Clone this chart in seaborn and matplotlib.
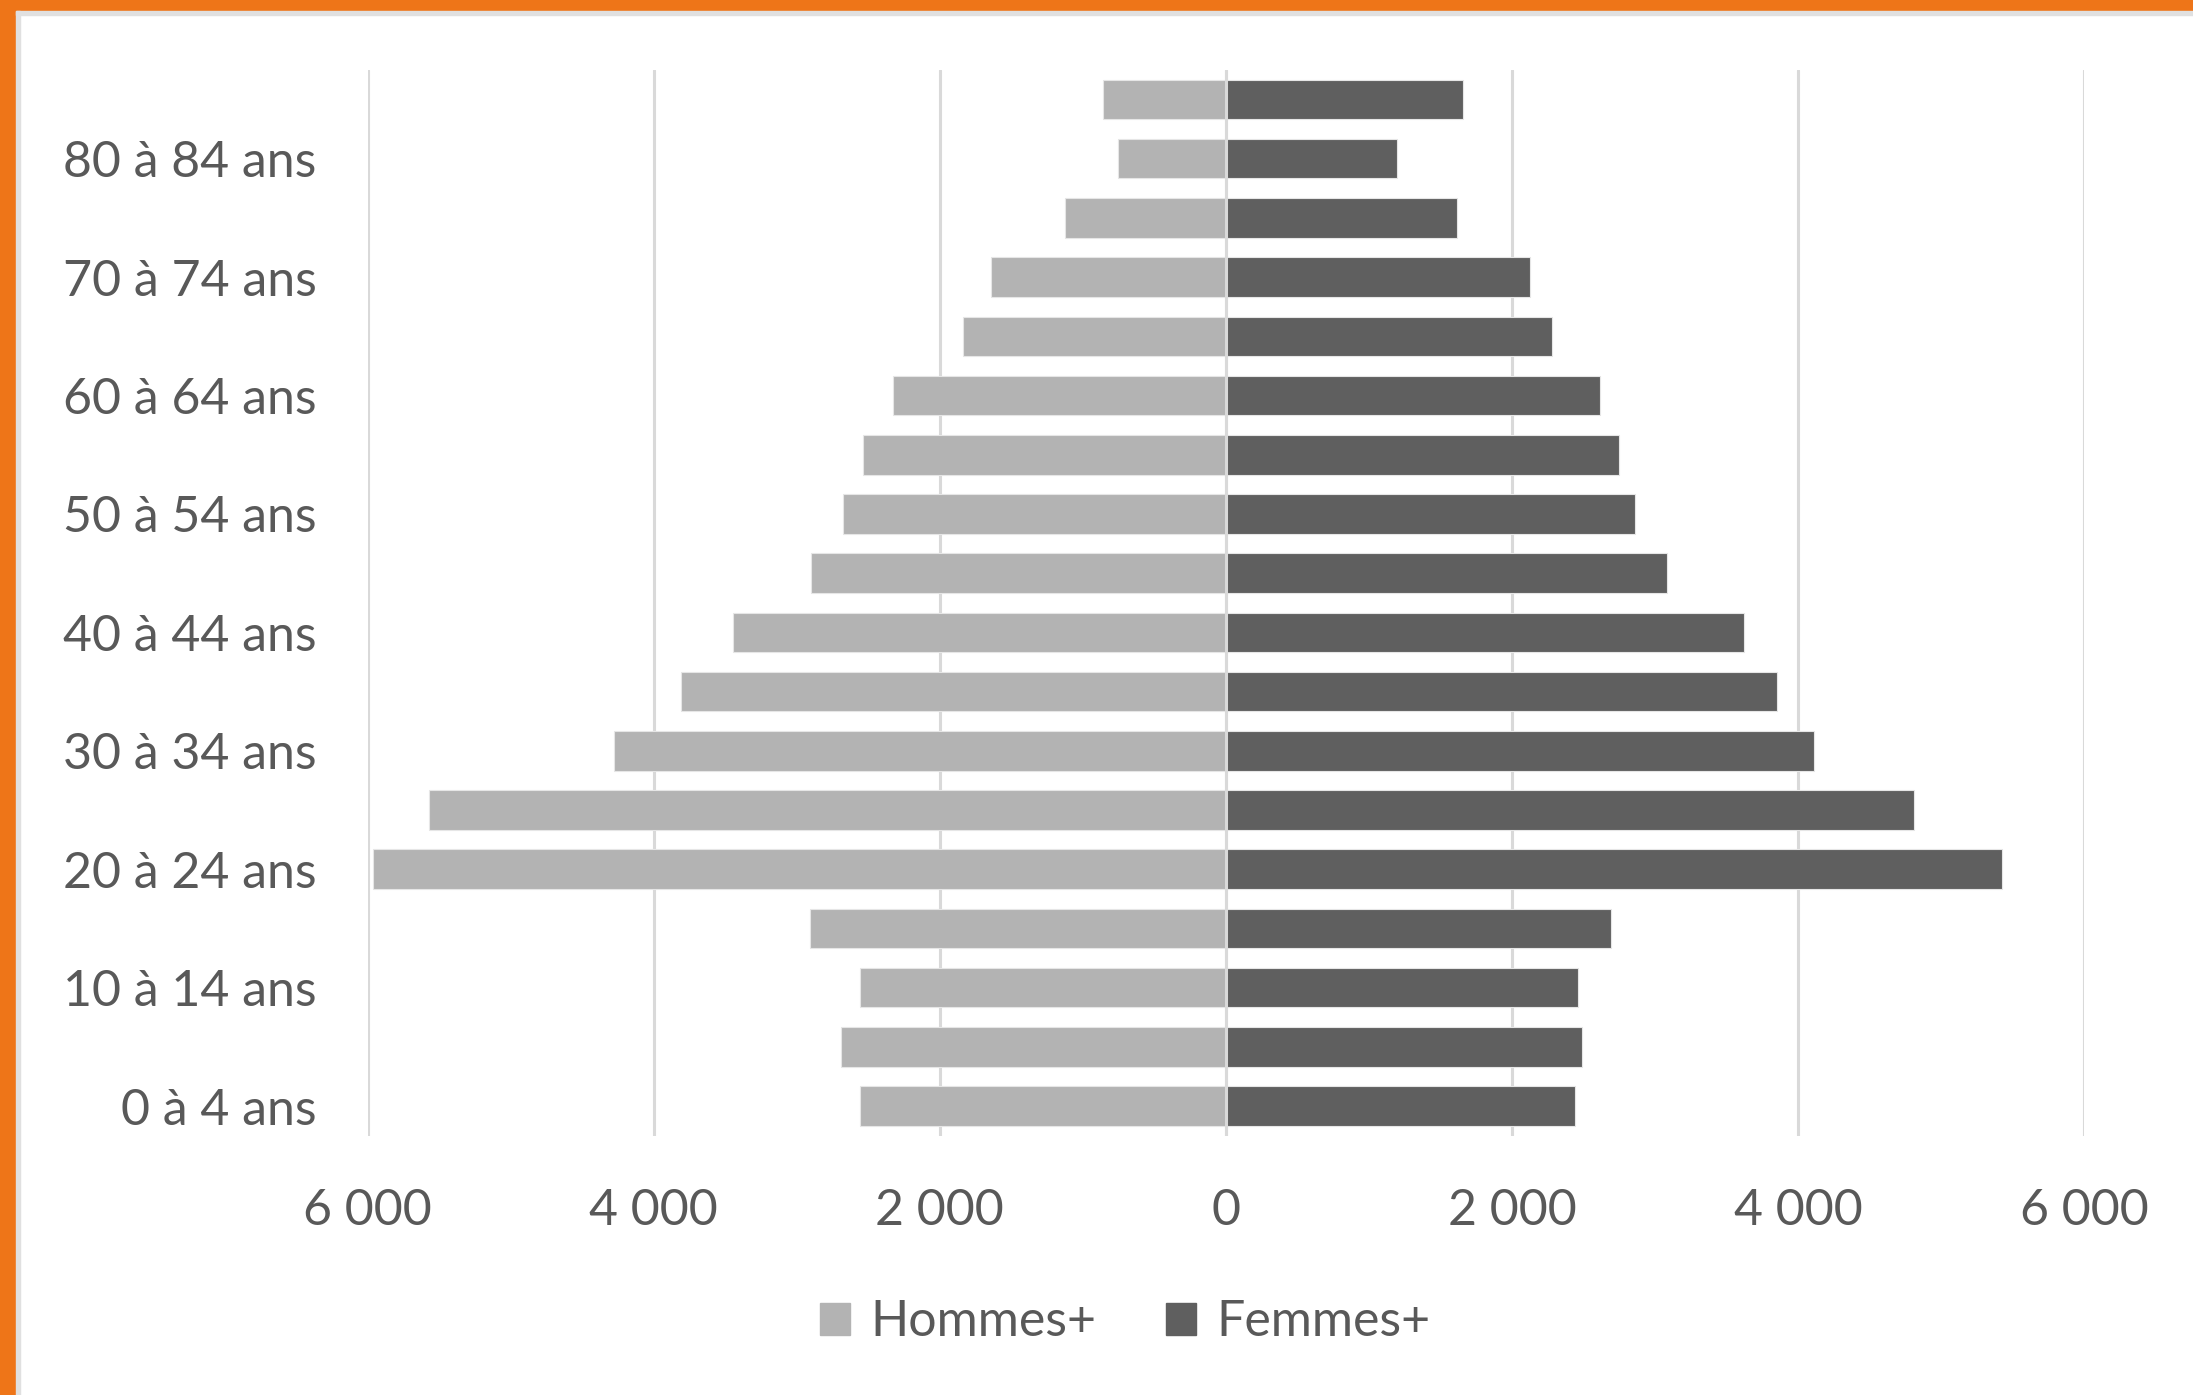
import matplotlib
matplotlib.use("Agg")
import matplotlib.pyplot as plt
import matplotlib.patches as mpatches
from matplotlib.ticker import FuncFormatter
import pandas as pd
import seaborn as sns

# age groups, bottom to top
ages = ["0 à 4 ans", "5 à 9 ans", "10 à 14 ans", "15 à 19 ans", "20 à 24 ans",
        "25 à 29 ans", "30 à 34 ans", "35 à 39 ans", "40 à 44 ans", "45 à 49 ans",
        "50 à 54 ans", "55 à 59 ans", "60 à 64 ans", "65 à 69 ans", "70 à 74 ans",
        "75 à 79 ans", "80 à 84 ans", "85 ans et plus"]
hommes = [2555, 2690, 2555, 2905, 5960, 5570, 4280, 3810, 3445, 2900,
          2675, 2535, 2330, 1840, 1645, 1125, 755, 860]
femmes = [2440, 2490, 2460, 2695, 5425, 4810, 4115, 3850, 3620, 3085,
          2860, 2750, 2615, 2280, 2125, 1615, 1195, 1655]
series = ["Hommes+", "Femmes+"]
colors = ["#B3B3B3", "#5F5F5F"]
x_ticks = [-6000, -4000, -2000, 0, 2000, 4000, 6000]

df = pd.DataFrame({
    "age": ages * 2,
    "value": [-v for v in hommes] + femmes,
    "sexe": [series[0]] * len(ages) + [series[1]] * len(ages),
})
order = ages[::-1]

sns.set_style("white")
plt.rcParams["font.family"] = ["Lato", "DejaVu Sans"]
text_color = "#595959"
fs = 36

fig = plt.figure(figsize=(21.93, 13.95), dpi=100)
ax = fig.add_axes([0.1677, 0.1859, 0.7826, 0.764])

sns.barplot(data=df, y="age", x="value", hue="sexe", order=order,
            hue_order=series, palette=colors, dodge=False, width=0.667,
            orient="h", edgecolor="#e6e6e6", linewidth=0.8, legend=False,
            ax=ax, zorder=3)

ax.set_xlim(-6000, 6000)
ax.set_ylim(len(ages) - 0.5, -0.5)
ax.set_xticks(x_ticks)
ax.xaxis.set_major_formatter(FuncFormatter(lambda v, p: f"{abs(int(v)):,}".replace(",", " ")))
ax.grid(axis="x", color="#D9D9D9", linewidth=2.2, zorder=0)
ax.axvline(0, color="#D9D9D9", linewidth=2.2, zorder=4)

ax.set_yticks(range(len(order)))
ax.set_yticklabels([lab if i % 2 == 1 else "" for i, lab in enumerate(order)])
ax.tick_params(axis="both", length=0, labelsize=fs, labelcolor=text_color)
ax.tick_params(axis="x", pad=38)
ax.tick_params(axis="y", pad=37)
ax.set_xlabel("")
ax.set_ylabel("")
for s in ax.spines.values():
    s.set_visible(False)

handles = [mpatches.Patch(color=c, label=s) for s, c in zip(series, colors)]
fig.legend(handles=handles, loc="center", bbox_to_anchor=(0.513, 0.052), ncol=2,
           frameon=False, fontsize=fs, labelcolor=text_color, handlelength=0.6,
           handleheight=0.6, handletextpad=0.4, columnspacing=1.4)

# orange frame on top and left, with thin grey inner line
fig.patches.append(mpatches.Rectangle((0, 1 - 11 / 1395), 1, 11 / 1395,
                                      transform=fig.transFigure, color="#EE7518"))
fig.patches.append(mpatches.Rectangle((0, 0), 16 / 2193, 1,
                                      transform=fig.transFigure, color="#EE7518"))
fig.patches.append(mpatches.Rectangle((16 / 2193, 1 - 15 / 1395), 1, 4 / 1395,
                                      transform=fig.transFigure, color="#E0E0E0"))
fig.patches.append(mpatches.Rectangle((16 / 2193, 0), 4 / 2193, 1 - 11 / 1395,
                                      transform=fig.transFigure, color="#E0E0E0"))

fig.savefig("out.png", dpi=100, facecolor="white")
